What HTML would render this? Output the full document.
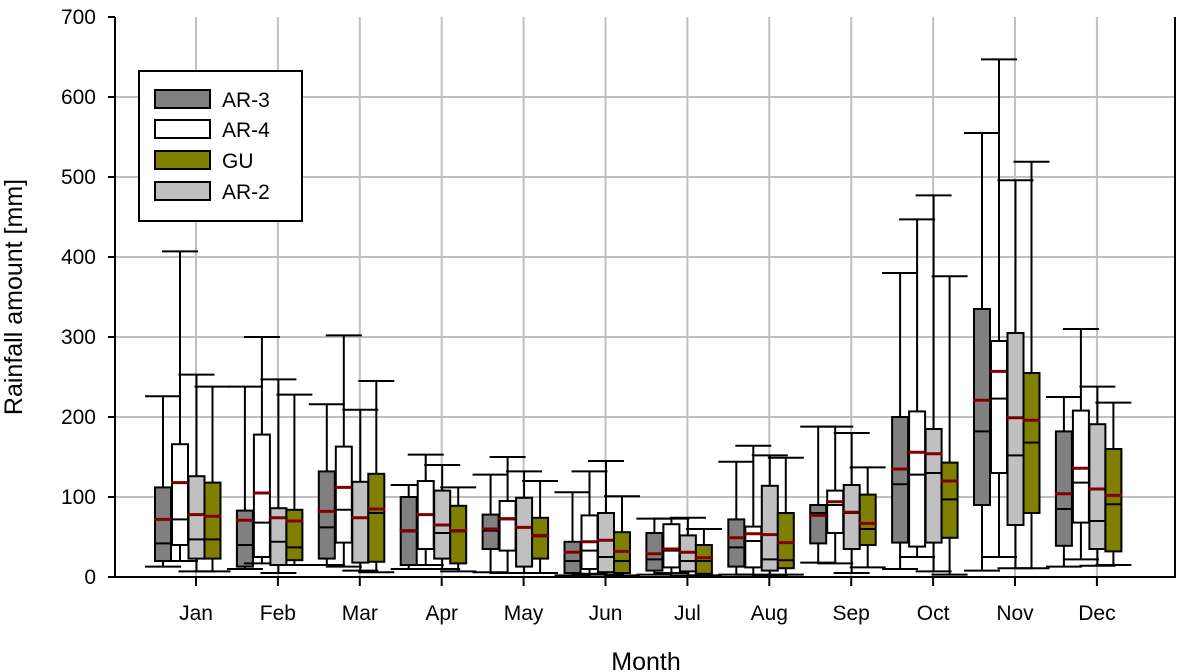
<!DOCTYPE html>
<html><head><meta charset="utf-8"><style>
html,body{margin:0;padding:0;background:#fff;}
svg{display:block;font-family:"Liberation Sans",Arial,sans-serif;}
</style></head><body>
<svg id="chart" width="1184" height="672">
<g id="grid"></g>
<g id="boxes"></g>
<g id="axes"></g>
<text x="22" y="297" font-size="25" text-anchor="middle" transform="rotate(-90 22 297)">Rainfall amount [mm]</text>
<text x="646" y="670" font-size="25" text-anchor="middle">Month</text>
<g>
<rect x="139" y="71" width="163" height="150" fill="#fff" stroke="#000" stroke-width="2"/>
<rect x="155" y="90" width="55" height="18" fill="#808080" stroke="#000" stroke-width="2"/>
<text x="222" y="107" font-size="21">AR-3</text>
<rect x="155" y="120" width="55" height="18" fill="#ffffff" stroke="#000" stroke-width="2"/>
<text x="222" y="137" font-size="21">AR-4</text>
<rect x="155" y="151" width="55" height="18" fill="#808000" stroke="#000" stroke-width="2"/>
<text x="222" y="168" font-size="21">GU</text>
<rect x="155" y="182" width="55" height="18" fill="#c0c0c0" stroke="#000" stroke-width="2"/>
<text x="222" y="199" font-size="21">AR-2</text>
</g>
</svg>
<script>
const months = ["Jan","Feb","Mar","Apr","May","Jun","Jul","Aug","Sep","Oct","Nov","Dec"];
const yTicks = [0,100,200,300,400,500,600,700];
const seriesNames = ["AR-3","AR-4","AR-2","GU"];
const seriesColors = ["#808080","#ffffff","#c0c0c0","#808000"];
// each entry: [low, q1, median, q3, high, mean]
const ar3 = [[13,20,42,112,226,72],[10,13,40,83,238,71],[15,23,62,132,216,82],[10,15,57,100,115,58],[6,35,58,78,128,60],[2,5,20,44,106,31],[3,8,22,55,73,29],[3,13,37,72,144,49],[18,42,80,90,188,77],[10,43,116,200,380,135],[8,90,182,335,555,221],[13,39,85,182,225,104]];
const ar4 = [[20,40,72,166,407,118],[17,25,68,178,300,105],[13,43,84,163,302,112],[15,35,78,120,153,78],[5,33,72,95,150,73],[4,10,33,77,132,44],[5,12,33,66,73,35],[3,12,45,63,164,54],[17,55,90,108,188,94],[25,38,128,207,447,156],[25,130,223,295,647,257],[22,68,118,208,310,136]];
const ar2 = [[7,23,47,126,253,78],[5,15,44,86,247,74],[8,18,74,119,209,74],[10,23,55,108,140,65],[5,13,62,99,132,62],[3,6,25,80,145,46],[2,7,20,52,74,31],[2,8,22,114,152,53],[5,35,80,115,180,81],[7,43,130,185,477,154],[11,65,152,305,496,199],[14,35,70,191,238,110]];
const gu = [[7,23,47,118,238,76],[15,21,37,84,228,70],[6,19,80,129,245,85],[7,17,57,89,112,58],[5,23,51,74,120,52],[2,5,20,56,101,32],[2,4,20,40,60,24],[3,11,21,80,149,43],[12,40,60,103,137,67],[3,49,97,143,376,120],[11,80,168,255,519,196],[15,32,91,160,218,102]];
const allSeries = [ar3, ar4, ar2, gu];

const NS="http://www.w3.org/2000/svg";
const L=115,R=1175,T=17,B=577;
const yv=v=>B-(v/700)*(B-T);
const xm=i=>196+i*81.9;
const offs=[-33,-16,0.5,16.5];
const bw=16;
function mk(tag,attrs,parent){const e=document.createElementNS(NS,tag);for(const k in attrs)e.setAttribute(k,attrs[k]);parent.appendChild(e);return e;}
const grid=document.getElementById('grid'),boxes=document.getElementById('boxes'),axes=document.getElementById('axes');
yTicks.forEach(t=>{
  if(t>0&&t<700){const g=mk('line',{x1:L,x2:R,y1:yv(t),y2:yv(t),stroke:'#c0c0c0','stroke-width':2},grid);
  
  }
  const tk=mk('line',{x1:L-7,x2:L,y1:yv(t),y2:yv(t),stroke:'#000','stroke-width':2},axes);
  
  
  const lb=mk('text',{x:96,y:yv(t)+7,'font-size':21,'text-anchor':'end'},axes);
  lb.textContent=t;
  
  
});
months.forEach((m,i)=>{
  const g=mk('line',{x1:xm(i),x2:xm(i),y1:T,y2:B,stroke:'#c0c0c0','stroke-width':2},grid);
  
  
  const tk=mk('line',{x1:xm(i),x2:xm(i),y1:B,y2:B+9,stroke:'#000','stroke-width':2},axes);
  
  
  const lb=mk('text',{x:xm(i),y:620,'font-size':21,'text-anchor':'middle'},axes);
  lb.textContent=m;
  
  
});
allSeries.forEach((ser,s)=>{
  ser.forEach((d,i)=>{
    const cx=xm(i)+offs[s];
    const [lo,q1,med,q3,hi,mean]=d;
    const g=mk('g',{},boxes);
    
    
    const st={stroke:'#000','stroke-width':2};
    mk('line',Object.assign({x1:cx,x2:cx,y1:yv(hi),y2:yv(q3)},st),g);
    mk('line',Object.assign({x1:cx,x2:cx,y1:yv(q1),y2:yv(lo)},st),g);
    mk('line',Object.assign({x1:cx-18,x2:cx+18,y1:yv(hi),y2:yv(hi)},st),g);
    mk('line',Object.assign({x1:cx-18,x2:cx+18,y1:yv(lo),y2:yv(lo)},st),g);
    mk('rect',Object.assign({x:cx-bw/2,y:yv(q3),width:bw,height:yv(q1)-yv(q3),fill:seriesColors[s]},st),g);
    mk('line',Object.assign({x1:cx-bw/2,x2:cx+bw/2,y1:yv(med),y2:yv(med)},st),g);
    mk('line',{x1:cx-bw/2-1,x2:cx+bw/2+1,y1:yv(mean),y2:yv(mean),stroke:'#800000','stroke-width':3},g);
  });
});
const fr=mk('path',{d:`M${L} ${T} L${L} ${B} L${R} ${B} L${R} ${T}`,fill:'none',stroke:'#000','stroke-width':2},axes);


</script>
</body></html>
